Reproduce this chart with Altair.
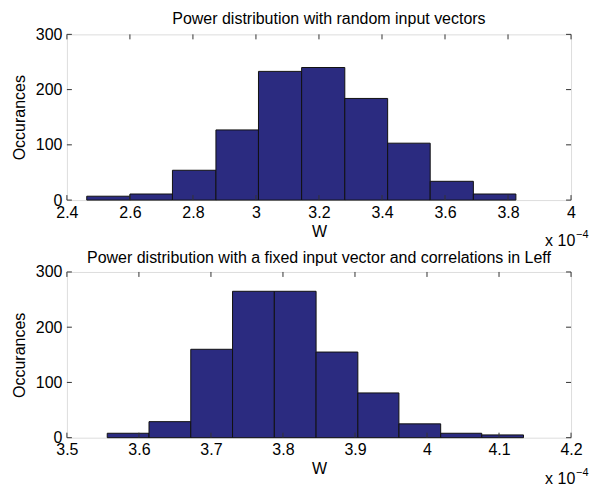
import altair as alt
import pandas as pd

# Histogram bin edges (units of 1e-4 W) and counts
top_edges = [2.463, 2.600, 2.735, 2.873, 3.008, 3.145, 3.282, 3.418, 3.553, 3.690, 3.825]
top_counts = [7, 11, 54, 127, 233, 240, 184, 103, 34, 11]
bot_edges = [3.556, 3.614, 3.672, 3.730, 3.788, 3.846, 3.904, 3.961, 4.019, 4.076, 4.134]
bot_counts = [8, 29, 160, 265, 265, 155, 81, 25, 8, 5]
top_xticks = [2.4, 2.6, 2.8, 3.0, 3.2, 3.4, 3.6, 3.8, 4.0]
bot_xticks = [3.5, 3.6, 3.7, 3.8, 3.9, 4.0, 4.1, 4.2]
yticks = [0, 100, 200, 300]
top_title = "Power distribution with random input vectors"
bot_title = "Power distribution with a fixed input vector and correlations in Leff"

W, H = 505, 166
FONT = "Liberation Sans"
BAR = "#2b2b80"
TICK = "#333333"
FS = 16


def panel(edges, counts, xticks, title, dx, toff):
    bars = pd.DataFrame({"x0": edges[:-1], "x1": edges[1:], "n": counts,
                         "z": [0] * len(counts)})
    xs = alt.Scale(domain=[xticks[0], xticks[-1]], nice=False, zero=False)
    ys = alt.Scale(domain=[0, 300], nice=False)
    common = dict(ticks=False, domain=False, grid=False,
                  labelFont=FONT, titleFont=FONT, labelFontSize=FS, titleFontSize=FS,
                  labelColor="black", titleColor="black", titleFontWeight="normal")
    xaxis = alt.Axis(values=xticks, format="~g", title="W",
                     labelPadding=4, titlePadding=3, labelFlush=False, **common)
    yaxis = alt.Axis(values=yticks, title="Occurances",
                     labelPadding=5, titlePadding=8, **common)
    b = alt.Chart(bars).mark_bar(color=BAR, stroke="#111111", strokeWidth=1).encode(
        x=alt.X("x0:Q", scale=xs, axis=xaxis),
        x2="x1:Q",
        y=alt.Y("n:Q", scale=ys, axis=yaxis),
        y2="z:Q",
    )
    xt = pd.DataFrame({"v": xticks})
    yt = pd.DataFrame({"v": yticks})
    xb = alt.Chart(xt).mark_rule(color=TICK).encode(
        x=alt.X("v:Q", scale=xs, axis=xaxis), y=alt.value(H), y2=alt.value(H - 5))
    xtop = alt.Chart(xt).mark_rule(color=TICK).encode(
        x=alt.X("v:Q", scale=xs, axis=xaxis), y=alt.value(0), y2=alt.value(5))
    yl = alt.Chart(yt).mark_rule(color=TICK).encode(
        y=alt.Y("v:Q", scale=ys, axis=yaxis), x=alt.value(0), x2=alt.value(5))
    yr = alt.Chart(yt).mark_rule(color=TICK).encode(
        y=alt.Y("v:Q", scale=ys, axis=yaxis), x=alt.value(W), x2=alt.value(W - 5))
    t1 = alt.Chart(pd.DataFrame({"t": ["x 10"]})).mark_text(
        align="left", baseline="alphabetic", fontSize=16, font=FONT, color="black"
    ).encode(text="t:N", x=alt.value(479), y=alt.value(H + 46))
    t2 = alt.Chart(pd.DataFrame({"t": ["\u22124"]})).mark_text(
        align="left", baseline="alphabetic", fontSize=11, font=FONT, color="black"
    ).encode(text="t:N", x=alt.value(510), y=alt.value(H + 38))
    return alt.layer(b, xb, xtop, yl, yr, t1, t2).properties(
        width=W, height=H,
        title=alt.TitleParams(title, dx=dx, offset=toff, font=FONT, fontSize=FS,
                              fontWeight="normal", color="black"),
    )


top = panel(top_edges, top_counts, top_xticks, top_title, 10, -1)
bot = panel(bot_edges, bot_counts, bot_xticks, bot_title, 0, -2)

chart = alt.vconcat(top, bot, spacing=72, bounds="flush").properties(
    padding={"top": 2, "left": 2, "right": 2, "bottom": 0}
).configure_view(
    stroke="black", strokeWidth=1
).configure(background="white")

chart.save("out.html", embed_options={"renderer": "svg", "actions": False})
